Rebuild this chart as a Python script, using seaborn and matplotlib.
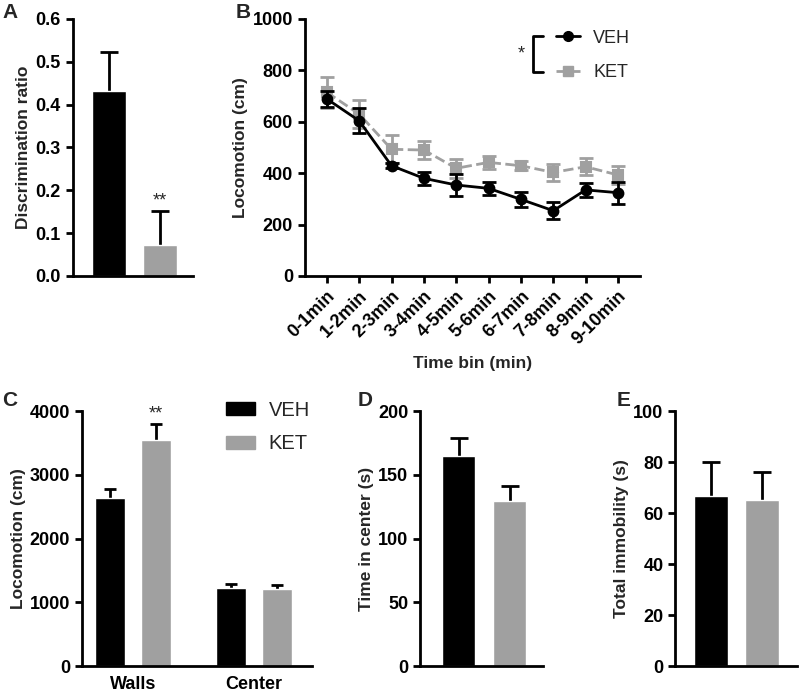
import numpy as np
import pandas as pd
import matplotlib
matplotlib.use("Agg")
import matplotlib.pyplot as plt
import seaborn as sns
from matplotlib.lines import Line2D
from matplotlib.patches import Patch

# ---- data ----
groups = ["VEH", "KET"]

disc_mean = [0.433, 0.072]
disc_sem = [0.090, 0.080]

time_bins = ["0-1min", "1-2min", "2-3min", "3-4min", "4-5min",
             "5-6min", "6-7min", "7-8min", "8-9min", "9-10min"]
veh_loc = [689, 604, 429, 380, 354, 341, 298, 254, 335, 324]
veh_sem = [30, 48, 10, 25, 42, 26, 28, 32, 26, 43]
ket_loc = [715, 630, 493, 490, 419, 442, 429, 403, 425, 393]
ket_sem = [60, 53, 55, 35, 36, 24, 18, 32, 34, 36]

regions = ["Walls", "Center"]
veh_region = [2642, 1227]
veh_region_sem = [130, 58]
ket_region = [3540, 1201]
ket_region_sem = [260, 68]

center_time_mean = [164.5, 129.2]
center_time_sem = [14.4, 12.1]

immob_mean = [66.6, 65.0]
immob_sem = [13.6, 11.0]

BLACK = "#000000"
GRAY = "#a0a0a0"
LW = 2.0

sns.set_style("ticks")
plt.rcParams["font.family"] = ["Liberation Sans", "DejaVu Sans"]
plt.rcParams["font.weight"] = "bold"
plt.rcParams["axes.labelweight"] = "bold"
plt.rcParams["axes.labelsize"] = 12.5
plt.rcParams["axes.labelpad"] = 3
plt.rcParams["axes.linewidth"] = LW
plt.rcParams["xtick.major.width"] = LW
plt.rcParams["ytick.major.width"] = LW
plt.rcParams["xtick.major.size"] = 5
plt.rcParams["ytick.major.size"] = 5
plt.rcParams["xtick.labelsize"] = 13
plt.rcParams["ytick.labelsize"] = 13
plt.rcParams["xtick.color"] = BLACK
plt.rcParams["ytick.color"] = BLACK
plt.rcParams["axes.edgecolor"] = BLACK
plt.rcParams["font.size"] = 12

fig = plt.figure(figsize=(8, 6.95), dpi=100)

axA = fig.add_axes([0.091, 0.6029, 0.150, 0.3698])
axB = fig.add_axes([0.381, 0.6029, 0.419, 0.3698])
axC = fig.add_axes([0.1025, 0.0417, 0.2875, 0.3669])
axD = fig.add_axes([0.525, 0.0417, 0.154, 0.3669])
axE = fig.add_axes([0.844, 0.0417, 0.152, 0.3669])


def up_errors(ax, xs, means, sems, capsize=6.5):
    _, caps, _ = ax.errorbar(xs, means, yerr=[np.zeros(len(sems)), sems],
                             fmt="none", ecolor=BLACK, elinewidth=LW,
                             capsize=capsize, capthick=LW, zorder=1)
    for c in caps:
        if np.allclose(c.get_ydata(), means):
            c.set_visible(False)


def simple_bars(ax, means, sems, width):
    df = pd.DataFrame({"group": groups, "value": means})
    sns.barplot(data=df, x="group", y="value", hue="group",
                palette=[BLACK, GRAY], width=width, errorbar=None,
                legend=False, ax=ax, saturation=1, zorder=2)
    up_errors(ax, [0, 1], means, sems)
    ax.set_xlabel("")
    ax.set_xticks([])
    sns.despine(ax=ax)


# ---- A ----
simple_bars(axA, disc_mean, disc_sem, 0.67)
axA.set_xlim(-0.706, 1.65)
axA.set_ylim(0, 0.6)
axA.set_yticks(np.arange(0, 0.61, 0.1))
axA.set_yticklabels([f"{v:.1f}" for v in np.arange(0, 0.61, 0.1)])
axA.set_ylabel("Discrimination ratio")
axA.text(1, 0.175, "**", ha="center", va="center", fontsize=13,
         fontweight="normal")

# ---- B ----
dfB = pd.DataFrame({
    "bin": time_bins * 2,
    "loc": veh_loc + ket_loc,
    "group": ["VEH"] * 10 + ["KET"] * 10,
})
sns.pointplot(data=dfB, x="bin", y="loc", hue="group", hue_order=["KET", "VEH"],
              palette=[GRAY, BLACK], markers=["s", "o"], linestyles=["--", "-"],
              errorbar=None, markersize=7, linewidth=LW, ax=axB, legend=False)
xs = np.arange(len(time_bins))
axB.errorbar(xs, ket_loc, yerr=ket_sem, fmt="none", ecolor=GRAY,
             elinewidth=LW, capsize=5, capthick=LW, zorder=1)
axB.errorbar(xs, veh_loc, yerr=veh_sem, fmt="none", ecolor=BLACK,
             elinewidth=LW, capsize=5, capthick=LW, zorder=3)
axB.set_xlim(-0.68, 9.68)
axB.set_ylim(0, 1000)
axB.set_yticks(range(0, 1001, 200))
axB.set_xticks(xs)
axB.set_xticklabels(time_bins, rotation=45, ha="right", rotation_mode="anchor")
axB.set_xlabel("Time bin (min)", labelpad=6)
axB.set_ylabel("Locomotion (cm)")
sns.despine(ax=axB)
handlesB = [
    Line2D([], [], color=BLACK, marker="o", ls="-", lw=LW, markersize=7),
    Line2D([], [], color=GRAY, marker="s", ls="--", lw=LW, markersize=7),
]
axB.legend(handlesB, groups, loc="upper left", bbox_to_anchor=(0.75, 0.958),
           frameon=False, handlelength=1.3, handletextpad=0.75,
           labelspacing=0.95, borderpad=0, borderaxespad=0,
           prop={"size": 13, "weight": "normal"})
bx1, bx2, byt, byb = 0.681, 0.710, 0.934, 0.794
axB.plot([bx2, bx1, bx1, bx2], [byt, byt, byb, byb], color=BLACK, lw=LW,
         transform=axB.transAxes, clip_on=False)
axB.text(0.645, 0.864, "*", transform=axB.transAxes, ha="center",
         va="center", fontsize=13, fontweight="normal")

# ---- C ----
dfC = pd.DataFrame({
    "region": regions * 2,
    "loc": veh_region + ket_region,
    "group": ["VEH"] * 2 + ["KET"] * 2,
})
sns.barplot(data=dfC, x="region", y="loc", hue="group", hue_order=groups,
            palette=[BLACK, GRAY], width=0.752, gap=0.34, errorbar=None,
            saturation=1, ax=axC, legend=False, zorder=2)
for cont, m, s in zip(axC.containers, [veh_region, ket_region],
                      [veh_region_sem, ket_region_sem]):
    cx = [b.get_x() + b.get_width() / 2 for b in cont]
    up_errors(axC, cx, m, s, capsize=4)
walls_ket = axC.containers[1][0]
axC.text(walls_ket.get_x() + walls_ket.get_width() / 2, 3950, "**",
         ha="center", va="center", fontsize=13, fontweight="normal")
axC.set_xlim(-0.421, 1.479)
axC.set_ylim(0, 4000)
axC.set_yticks(range(0, 4001, 1000))
axC.tick_params(axis="x", length=0, pad=7)
axC.set_xlabel("")
axC.set_ylabel("Locomotion (cm)")
sns.despine(ax=axC)
handlesC = [Patch(color=BLACK), Patch(color=GRAY)]
axC.legend(handlesC, groups, loc="upper left", bbox_to_anchor=(0.628, 1.04),
           frameon=False, handlelength=1.4, handleheight=0.65,
           handletextpad=0.7, labelspacing=0.72, borderpad=0,
           borderaxespad=0, prop={"size": 14.5, "weight": "normal"})

# ---- D ----
simple_bars(axD, center_time_mean, center_time_sem, 0.65)
axD.set_xlim(-0.755, 1.657)
axD.set_ylim(0, 200)
axD.set_yticks(range(0, 201, 50))
axD.set_ylabel("Time in center (s)")

# ---- E ----
simple_bars(axE, immob_mean, immob_sem, 0.66)
axE.set_xlim(-0.70, 1.67)
axE.set_ylim(0, 100)
axE.set_yticks(range(0, 101, 20))
axE.set_ylabel("Total immobility (s)")

# panel letters
for lab, (x, y) in {"A": (0.003, 0.995), "B": (0.295, 0.995), "C": (0.003, 0.437),
                    "D": (0.447, 0.437), "E": (0.771, 0.437)}.items():
    fig.text(x, y, lab, fontsize=15, fontweight="bold", va="top", ha="left")

fig.savefig("out.png", dpi=100)
